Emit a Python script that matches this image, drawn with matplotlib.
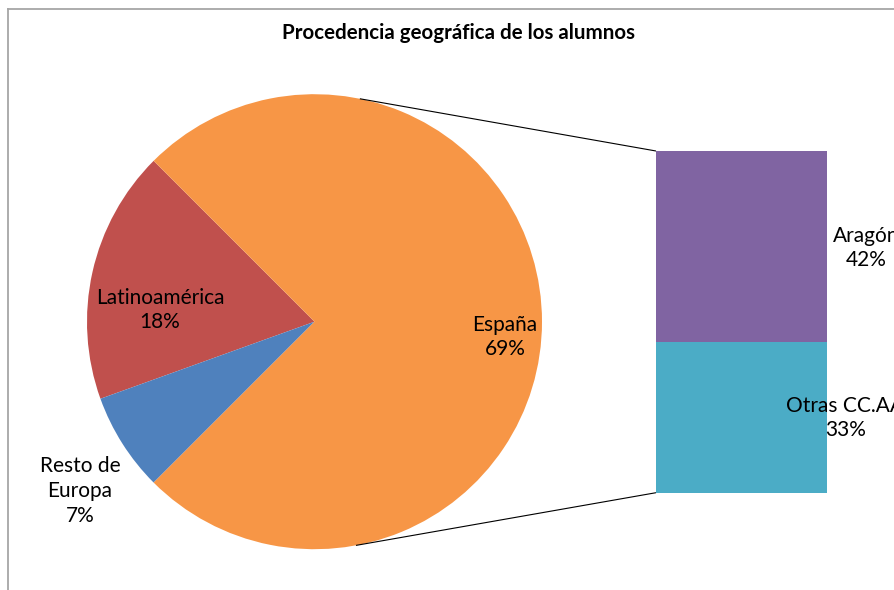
import numpy as np
import matplotlib
matplotlib.use("Agg")
import matplotlib.pyplot as plt

plt.rcParams['font.family'] = ['Lato', 'DejaVu Sans']

title = "Procedencia geográfica de los alumnos"
pie_labels = ["Latinoamérica", "Resto de\nEuropa", "España"]
pie_pcts = ["18%", "7%", "69%"]
bar_labels = ["Otras CC.AA", "Aragón"]
bar_values = [33, 42]
latino_value = 18
resto_value = 7
espana_value = sum(bar_values)
pie_values = [latino_value, resto_value, espana_value]

colors_pie = ["#C0504D", "#4F81BD", "#F79646"]
colors_bar = ["#4BACC6", "#8064A2"]

W, H = 894, 590
fig = plt.figure(figsize=(W / 100, H / 100), dpi=100)
ax = fig.add_axes([0, 0, 1, 1])
ax.set_zorder(2)

def Y(y):
    return H - y

cx, cy, r = 314.5, Y(321.7), 227.5
total = sum(pie_values)
start = 360 * (espana_value / total) / 2
ax.pie(pie_values, colors=colors_pie, startangle=start, counterclock=True,
       center=(cx, cy), radius=r, wedgeprops=dict(linewidth=0))
ax.set_xlim(0, W)
ax.set_ylim(0, H)
ax.set_aspect('auto')
ax.axis('off')
ax.patch.set_visible(False)

# bar of the split slice
bx0, bx1, btop, bbot = 656, 827, 151, 492.7
ax2 = fig.add_axes([bx0 / W, Y(bbot) / H, (bx1 - bx0) / W, (bbot - btop) / H])
ax2.set_zorder(1)
bottoms = np.concatenate([[0], np.cumsum(bar_values)[:-1]])
ax2.bar([0] * len(bar_values), bar_values, bottom=bottoms, width=1.0,
        color=colors_bar, linewidth=0)
ax2.set_xlim(-0.5, 0.5)
ax2.set_ylim(0, sum(bar_values))
ax2.axis('off')

# connector lines
for ang, by in [(78.5, btop), (-79.5, bbot)]:
    a = np.radians(ang)
    ax.plot([cx + r * np.cos(a), bx0], [cy + r * np.sin(a), Y(by)],
            color='black', lw=0.8, solid_capstyle='butt')

# chart border
ax.plot([8, W + 5], [Y(9), Y(9)], color='#A6A6A6', lw=1.3, clip_on=False)
ax.plot([8, 8], [Y(9), -5], color='#A6A6A6', lw=1.3, clip_on=False)

fs = 15
ls = 1.3
ax.text(458, Y(33), title, ha='center', va='center', fontsize=14.8, fontweight='bold')
ax.text(160, Y(310), pie_labels[0] + "\n" + pie_pcts[0], ha='center', va='center',
        fontsize=fs, linespacing=ls)
ax.text(80, Y(491), pie_labels[1] + "\n" + pie_pcts[1], ha='center', va='center',
        fontsize=fs, linespacing=ls)
ax.text(505, Y(337), pie_labels[2] + "\n" + pie_pcts[2], ha='center', va='center',
        fontsize=fs, linespacing=ls)
ax.text(866, Y(248), bar_labels[1] + "\n" + f"{bar_values[1]}%", ha='center', va='center',
        fontsize=fs, linespacing=ls)
ax.text(845.5, Y(418), bar_labels[0] + "\n" + f"{bar_values[0]}%", ha='center', va='center',
        fontsize=fs, linespacing=ls)

fig.savefig("out.png", dpi=100)
